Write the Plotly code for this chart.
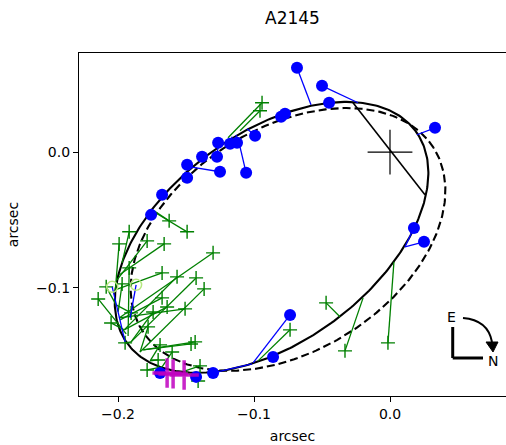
import numpy as np
import plotly.graph_objects as go

# ---------------- data (arcsec) ----------------
title_text = "A2145"

# orbit ellipses: centre x, centre y, semi-major, semi-minor, position angle (deg)
orbit_solid = dict(cx=-0.0871, cy=-0.0629, a=0.1318, b=0.0769, theta=36.6)
orbit_dashed = dict(cx=-0.0750, cy=-0.0644, a=0.1266, b=0.0822, theta=32.2)

# line of nodes end points
node_x = [-0.0272, 0.0257]
node_y = [0.0364, -0.0315]

# filled blue observations and their model positions
blue_x = [-0.0684, -0.0500, -0.0448, 0.0331, -0.0801, -0.0772, -0.0992, -0.1176, -0.1125,
          -0.1264, -0.1272, -0.1382, -0.1492, -0.1492, -0.1250, -0.1058, -0.1676, -0.1757,
          0.0176, 0.0250, -0.0735, -0.0860, -0.1301, -0.1426, -0.1691]
blue_y = [0.0622, 0.0489, 0.0364, 0.0179, 0.0261, 0.0283, 0.0120, 0.0061, 0.0069,
          0.0069, -0.0035, -0.0035, -0.0094, -0.0190, -0.0145, -0.0153, -0.0315, -0.0463,
          -0.0559, -0.0662, -0.1201, -0.1511, -0.1629, -0.1658, -0.1629]
blue_mx = [-0.0581, -0.0235, -0.0448, 0.0198, -0.0816, -0.0772, -0.1051, -0.1161, -0.1132,
           -0.1264, -0.1264, -0.1352, -0.1470, -0.1507, -0.1470, -0.1103, -0.1661, -0.1742,
           0.0110, 0.0110, -0.1007, -0.0880, -0.1014, -0.1426, -0.1646]
blue_my = [0.0349, 0.0364, 0.0349, 0.0128, 0.0261, 0.0275, 0.0172, 0.0114, 0.0127,
           0.0047, 0.0047, -0.0005, -0.0087, -0.0145, -0.0109, 0.0039, -0.0300, -0.0433,
           -0.0699, -0.0699, -0.1555, -0.1525, -0.1562, -0.1629, -0.1599]

# open blue observations and their model positions
open_x = [-0.2043, -0.1867]
open_y = [-0.0994, -0.0979]
open_mx = [-0.1948, -0.1911]
open_my = [-0.1400, -0.1223]

# green observations and their model positions
green_x = [-0.0941, -0.0956, -0.1624, -0.1492, -0.1918, -0.1786, -0.1992, -0.1661, -0.1301,
           -0.1918, -0.1676, -0.1566, -0.1426, -0.2087, -0.1970, -0.1367, -0.2146, -0.1676,
           -0.1639, -0.1507, -0.1742, -0.1904, -0.2051, -0.1779, -0.1433, -0.1463, -0.1948,
           -0.1691, -0.1705, -0.1786, -0.1602, -0.0470, -0.0331, -0.0015, -0.0735, -0.1397,
           -0.1411]
green_y = [0.0364, 0.0305, -0.0507, -0.0588, -0.0588, -0.0655, -0.0677, -0.0677, -0.0743,
           -0.0854, -0.0891, -0.0920, -0.0928, -0.0994, -0.0972, -0.1009, -0.1083, -0.1075,
           -0.1142, -0.1156, -0.1179, -0.1186, -0.1260, -0.1289, -0.1400, -0.1415, -0.1407,
           -0.1422, -0.1533, -0.1607, -0.1474, -0.1112, -0.1466, -0.1407, -0.1311, -0.1577,
           -0.1688]
green_mx = [-0.1191, -0.1103, -0.1735, -0.1713, -0.1970, -0.2007, -0.2021, -0.1992, -0.1992,
            -0.1926, -0.2021, -0.1955, -0.1904, -0.2014, -0.1999, -0.1838, -0.1940, -0.1985,
            -0.1955, -0.1992, -0.1904, -0.2014, -0.1955, -0.1838, -0.1815, -0.1815, -0.1904,
            -0.1764, -0.1764, -0.1676, -0.1676, -0.0368, -0.0198, 0.0029, -0.0970, -0.1507,
            -0.1507]
green_my = [0.0106, 0.0157, -0.0433, -0.0455, -0.0817, -0.0942, -0.1031, -0.0906, -0.1223,
            -0.1356, -0.1016, -0.1311, -0.1400, -0.1127, -0.1179, -0.1474, -0.1341, -0.1238,
            -0.1311, -0.1223, -0.1400, -0.1127, -0.1311, -0.1474, -0.1459, -0.1459, -0.1400,
            -0.1540, -0.1540, -0.1584, -0.1584, -0.1215, -0.1075, -0.0810, -0.1540, -0.1614,
            -0.1614]

# magenta points
mag_x = [-0.1639, -0.1595, -0.1514]
mag_y = [-0.1629, -0.1636, -0.1644]

# primary star
star_x = [0.0]
star_y = [0.0]

x_ticks = [-0.2, -0.1, 0.0]
x_ticktext = ["\u22120.2", "\u22120.1", "0.0"]
y_ticks = [-0.1, 0.0]
y_ticktext = ["\u22120.1", "0.0"]
x_range = [-0.2287, 0.0853]
y_range = [-0.1799, 0.0731]


def ellipse(p, n=361):
    t = np.linspace(0, 2 * np.pi, n)
    th = np.radians(p["theta"])
    x = p["cx"] + p["a"] * np.cos(t) * np.cos(th) - p["b"] * np.sin(t) * np.sin(th)
    y = p["cy"] + p["a"] * np.cos(t) * np.sin(th) + p["b"] * np.sin(t) * np.cos(th)
    return x, y


def segments(x0, y0, x1, y1):
    xs, ys = [], []
    for a, b, c, d in zip(x0, y0, x1, y1):
        xs += [a, c, None]
        ys += [b, d, None]
    return xs, ys


FONT = "DejaVu Sans"
fig = go.Figure()

ex, ey = ellipse(orbit_solid)
fig.add_trace(go.Scatter(x=ex, y=ey, mode="lines", line=dict(color="black", width=2.1)))
ex, ey = ellipse(orbit_dashed)
fig.add_trace(go.Scatter(x=ex, y=ey, mode="lines",
                         line=dict(color="black", width=2.1, dash="8px,4px")))
fig.add_trace(go.Scatter(x=node_x, y=node_y, mode="lines", line=dict(color="black", width=1.6)))

# green residuals
sx, sy = segments(green_x, green_y, green_mx, green_my)
fig.add_trace(go.Scatter(x=sx, y=sy, mode="lines", line=dict(color="rgb(0,128,0)", width=1.3)))
fig.add_trace(go.Scatter(x=green_x, y=green_y, mode="markers",
                         marker=dict(symbol="cross-thin", size=10,
                                     line=dict(color="rgb(0,128,0)", width=1.4))))

# blue residuals
sx, sy = segments(blue_x + open_x, blue_y + open_y, blue_mx + open_mx, blue_my + open_my)
fig.add_trace(go.Scatter(x=sx, y=sy, mode="lines", line=dict(color="blue", width=1.3)))
fig.add_trace(go.Scatter(x=blue_x, y=blue_y, mode="markers",
                         marker=dict(symbol="circle", size=12, color="blue", line=dict(width=0))))
fig.add_trace(go.Scatter(x=open_x, y=open_y, mode="markers",
                         marker=dict(symbol="circle-open", size=11,
                                     line=dict(color="blue", width=1.5))))

# magenta
fig.add_trace(go.Scatter(x=mag_x, y=mag_y, mode="markers",
                         marker=dict(symbol="cross-thin", size=21,
                                     line=dict(color="rgba(191,0,191,0.85)", width=3.5))))

# star
fig.add_trace(go.Scatter(x=star_x, y=star_y, mode="markers",
                         marker=dict(symbol="cross-thin", size=32,
                                     line=dict(color="black", width=1.2))))

# compass (paper coordinates)
shapes = [
    dict(type="line", xref="paper", yref="paper", x0=0.8752, y0=0.2012, x1=0.8752, y1=0.1108,
         line=dict(color="black", width=3)),
    dict(type="line", xref="paper", yref="paper", x0=0.8752, y0=0.1108, x1=0.9461, y1=0.1108,
         line=dict(color="black", width=3)),
    dict(type="path", xref="paper", yref="paper",
         path="M 0.8993,0.2274 Q 0.9578,0.2216 0.9672,0.1574",
         line=dict(color="black", width=2)),
    dict(type="path", xref="paper", yref="paper",
         path="M 0.9532,0.1574 L 0.9813,0.1574 L 0.9696,0.1283 Z",
         fillcolor="black", line=dict(color="black", width=1)),
]
annotations = [
    dict(text="E", xref="paper", yref="paper", x=0.8712, y=0.2303, showarrow=False,
         xanchor="center", yanchor="middle",
         font=dict(family=FONT, size=14, color="black")),
    dict(text="N", xref="paper", yref="paper", x=0.9696, y=0.1020, showarrow=False,
         xanchor="center", yanchor="middle",
         font=dict(family=FONT, size=14, color="black")),
]

axis_common = dict(showgrid=False, zeroline=False, showline=True, linecolor="black",
                   linewidth=1.2, ticks="outside", ticklen=5, tickwidth=1.1, tickcolor="black",
                   tickfont=dict(family=FONT, size=14, color="black"))

fig.update_layout(
    width=506, height=445,
    margin=dict(l=79, r=0, t=53, b=49),
    paper_bgcolor="white", plot_bgcolor="white",
    showlegend=False,
    title=dict(text=title_text, x=0.5, xref="paper", y=1 - 18 / 445, yref="container",
               yanchor="middle", font=dict(family=FONT, size=17, color="black")),
    xaxis=dict(range=x_range, tickvals=x_ticks, ticktext=x_ticktext, mirror=True,
               title=dict(text="arcsec", standoff=10, font=dict(family=FONT, size=14, color="black")),
               **axis_common),
    yaxis=dict(range=y_range, tickvals=y_ticks, ticktext=y_ticktext, mirror=False,
               title=dict(text="arcsec", standoff=14, font=dict(family=FONT, size=14, color="black")),
               **axis_common),
    shapes=shapes, annotations=annotations,
)

fig.write_html(
    "out.html",
    config={"displayModeBar": False},
    post_script="document.body.style.margin='0';document.body.style.overflow='hidden';",
)
